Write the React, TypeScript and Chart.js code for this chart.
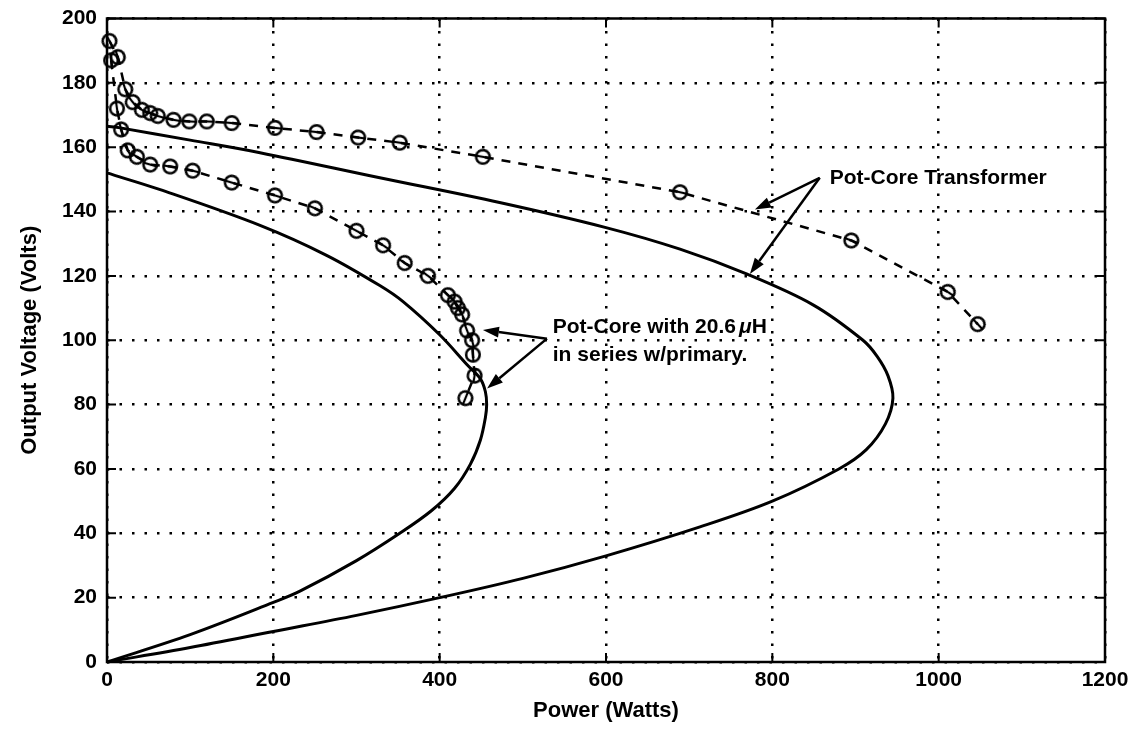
import React, { useEffect, useRef } from "react";
import { Chart, registerables } from "chart.js";

Chart.register(...registerables);

// Axis ticks
const xTicks = [0, 200, 400, 600, 800, 1000, 1200];
const yTicks = [0, 20, 40, 60, 80, 100, 120, 140, 160, 180, 200];

// Calculated output curve, pot-core transformer (solid)
const potCoreCalcP = [0, 100, 200, 300, 400, 500, 600, 713, 800, 880, 913, 936, 945, 939, 926, 909, 849, 769, 689, 600, 472, 328, 184, 100, 16, 0];
const potCoreCalcV = [0, 4.5, 9.5, 14.5, 20, 26, 33, 42, 50, 60, 66, 74, 82, 89, 95, 100, 111, 120.6, 128.3, 135, 142.8, 150.5, 158.3, 162.2, 166, 166.5];

// Calculated output curve, pot-core with series inductance (solid)
const seriesLCalcP = [0, 100, 200, 232, 300, 352, 390, 418, 437, 449, 455, 456.5, 455, 449, 433, 400, 356, 328, 264, 184, 64, 0];
const seriesLCalcV = [0, 8.5, 18.5, 22, 31.5, 40, 47, 54, 61.5, 69, 76, 80, 84, 88, 92.4, 101.7, 112, 117, 126.4, 135.7, 146.8, 152];

// Measured points, pot-core transformer (dashed, circles)
const potCoreMeasP = [3, 13, 22, 31, 42, 52, 61, 80, 99, 120, 150, 202, 252, 302, 352, 452, 689, 895, 1011, 1047];
const potCoreMeasV = [193, 188, 178, 174, 171.6, 170.6, 169.7, 168.5, 168, 168, 167.5, 166, 164.7, 163, 161.4, 157, 146, 131, 115, 105];

// Measured points, pot-core with series inductance (dashed, circles)
const seriesLMeasP = [5, 12, 17, 25, 36, 52, 76, 103, 150, 202, 250, 300, 332, 358, 386, 410, 418, 422, 427, 433, 439, 440, 442, 431];
const seriesLMeasV = [187, 172, 165.5, 159, 157, 154.6, 154, 152.7, 149, 145, 141, 134, 129.5, 124, 120, 114, 112, 110, 108, 103, 100, 95.5, 89, 82];

// Callouts (data coordinates)
const transformerLabel = "Pot-Core Transformer";
const transformerLabelAt = [869, 150.5];
const transformerArrowFrom = [857, 150.5];
const transformerArrowTips = [[779, 140.6], [773, 120.6]];

const seriesLabelLine1 = "Pot-Core with 20.6";
const seriesLabelUnit = "H";
const seriesLabelLine2 = "in series w/primary.";
const seriesLabelAt = [536, 104.2];
const seriesLabelLine2At = [536, 95.5];
const seriesArrowFrom = [529, 100.5];
const seriesArrowTips = [[452, 103.2], [457, 85]];

const FONT = "'Liberation Sans', Arial, Helvetica, sans-serif";

const toPoints = (xs: number[], ys: number[]) => xs.map((x, i) => ({ x, y: ys[i] }));

function makeMarker(): HTMLCanvasElement {
  const c = document.createElement("canvas");
  c.width = 20;
  c.height = 20;
  const g = c.getContext("2d")!;
  g.strokeStyle = "#000";
  g.lineWidth = 2.5;
  g.beginPath();
  g.arc(10, 10, 6.8, 0, Math.PI * 2);
  g.stroke();
  g.lineWidth = 2.2;
  g.beginPath();
  g.moveTo(4, 10);
  g.lineTo(16, 10);
  g.stroke();
  return c;
}

// Rotate each marker's inner bar along the local direction of its line
const markerRotation = (ctx: any) => {
  const data = ctx.dataset?.data as { x: number; y: number }[] | undefined;
  const sx = ctx.chart?.scales?.x;
  const sy = ctx.chart?.scales?.y;
  if (!data || !sx || !sy) return 0;
  const i = ctx.dataIndex;
  const a = data[Math.max(0, i - 1)];
  const b = data[Math.min(data.length - 1, i + 1)];
  const dx = sx.getPixelForValue(b.x) - sx.getPixelForValue(a.x);
  const dy = sy.getPixelForValue(b.y) - sy.getPixelForValue(a.y);
  const ang = (Math.atan2(dy, dx) * 180) / Math.PI;
  return isFinite(ang) ? ang : 0;
};

const framePlugin = {
  id: "frame",
  afterDraw(chart: any) {
    const { ctx, chartArea: a, scales } = chart;
    ctx.save();
    ctx.strokeStyle = "#000";
    ctx.lineWidth = 2.5;
    ctx.strokeRect(a.left, a.top, a.right - a.left, a.bottom - a.top);
    ctx.lineWidth = 2;
    const tl = 9;
    ctx.beginPath();
    for (const v of xTicks) {
      const px = scales.x.getPixelForValue(v);
      ctx.moveTo(px, a.bottom);
      ctx.lineTo(px, a.bottom - tl);
      ctx.moveTo(px, a.top);
      ctx.lineTo(px, a.top + tl);
    }
    for (const v of yTicks) {
      const py = scales.y.getPixelForValue(v);
      ctx.moveTo(a.left, py);
      ctx.lineTo(a.left + tl, py);
      ctx.moveTo(a.right, py);
      ctx.lineTo(a.right - tl, py);
    }
    ctx.stroke();
    ctx.restore();
  },
};

function arrow(ctx: CanvasRenderingContext2D, x0: number, y0: number, x1: number, y1: number) {
  const ang = Math.atan2(y1 - y0, x1 - x0);
  const len = 16;
  const hw = 5.5;
  const bx = x1 - len * Math.cos(ang);
  const by = y1 - len * Math.sin(ang);
  ctx.beginPath();
  ctx.moveTo(x0, y0);
  ctx.lineTo(bx, by);
  ctx.stroke();
  ctx.beginPath();
  ctx.moveTo(x1, y1);
  ctx.lineTo(bx + hw * Math.sin(ang), by - hw * Math.cos(ang));
  ctx.lineTo(bx - hw * Math.sin(ang), by + hw * Math.cos(ang));
  ctx.closePath();
  ctx.fill();
}

const calloutPlugin = {
  id: "callouts",
  afterDatasetsDraw(chart: any) {
    const { ctx, scales } = chart;
    const px = (v: number) => scales.x.getPixelForValue(v);
    const py = (v: number) => scales.y.getPixelForValue(v);
    ctx.save();
    ctx.strokeStyle = "#000";
    ctx.fillStyle = "#000";
    ctx.lineWidth = 2.5;
    for (const [tx, ty] of transformerArrowTips) {
      arrow(ctx, px(transformerArrowFrom[0]), py(transformerArrowFrom[1]), px(tx), py(ty));
    }
    for (const [tx, ty] of seriesArrowTips) {
      arrow(ctx, px(seriesArrowFrom[0]), py(seriesArrowFrom[1]), px(tx), py(ty));
    }
    ctx.textBaseline = "middle";
    ctx.textAlign = "left";
    ctx.font = `bold 21px ${FONT}`;
    ctx.fillText(transformerLabel, px(transformerLabelAt[0]), py(transformerLabelAt[1]));

    let x = px(seriesLabelAt[0]);
    const y1 = py(seriesLabelAt[1]);
    ctx.fillText(seriesLabelLine1, x, y1);
    x += ctx.measureText(seriesLabelLine1).width + 3;
    ctx.font = `italic bold 21px ${FONT}`;
    ctx.fillText("\u03bc", x, y1);
    x += ctx.measureText("\u03bc").width;
    ctx.font = `bold 21px ${FONT}`;
    ctx.fillText(seriesLabelUnit, x, y1);
    ctx.fillText(seriesLabelLine2, px(seriesLabelLine2At[0]), py(seriesLabelLine2At[1]));
    ctx.restore();
  },
};

export default function App() {
  const ref = useRef<HTMLCanvasElement | null>(null);

  useEffect(() => {
    if (!ref.current) return;
    Chart.defaults.font.family = FONT;
    Chart.defaults.color = "#000";
    const marker = makeMarker();

    const measured = (xs: number[], ys: number[]) => ({
      data: toPoints(xs, ys),
      showLine: true,
      borderColor: "#000",
      borderWidth: 2.5,
      borderDash: [9, 8],
      tension: 0,
      pointStyle: marker as any,
      pointRadius: 8,
      pointRotation: markerRotation,
      clip: 12,
    });
    const calc = (xs: number[], ys: number[]) => ({
      data: toPoints(xs, ys),
      showLine: true,
      borderColor: "#000",
      borderWidth: 3,
      tension: 0.35,
      pointRadius: 0,
      clip: 4,
    });

    const chart = new Chart(ref.current, {
      type: "scatter",
      data: {
        datasets: [
          calc(potCoreCalcP, potCoreCalcV),
          calc(seriesLCalcP, seriesLCalcV),
          measured(potCoreMeasP, potCoreMeasV),
          measured(seriesLMeasP, seriesLMeasV),
        ] as any,
      },
      options: {
        animation: false,
        responsive: true,
        maintainAspectRatio: false,
        layout: { padding: { top: 7, right: 26, left: 0, bottom: 0 } },
        plugins: { legend: { display: false }, tooltip: { enabled: false } },
        scales: {
          x: {
            type: "linear",
            min: 0,
            max: 1200,
            afterBuildTicks: (s: any) => {
              s.ticks = xTicks.map((v) => ({ value: v }));
            },
            afterFit: (s: any) => {
              s.height = 62;
              s.paddingLeft = 0;
              s.paddingRight = 0;
            },
            ticks: {
              padding: 6,
              font: { size: 21, weight: "bold" },
              color: "#000",
              maxRotation: 0,
              callback: (v: any) => String(v),
            },
            grid: { color: "#000", lineWidth: 2.5, drawTicks: false },
            border: { display: false, dash: [2.5, 10] },
            title: {
              display: true,
              text: "Power (Watts)",
              font: { size: 22, weight: "bold" },
              color: "#000",
              padding: { top: 0, bottom: 0 },
            },
          },
          y: {
            type: "linear",
            min: 0,
            max: 200,
            afterBuildTicks: (s: any) => {
              s.ticks = yTicks.map((v) => ({ value: v }));
            },
            afterFit: (s: any) => {
              s.width = 99;
              s.paddingTop = 0;
              s.paddingBottom = 0;
            },
            ticks: {
              padding: 10,
              font: { size: 21, weight: "bold" },
              color: "#000",
              callback: (v: any) => String(v),
            },
            grid: { color: "#000", lineWidth: 2.5, drawTicks: false },
            border: { display: false, dash: [2.5, 10] },
            title: {
              display: true,
              text: "Output Voltage (Volts)",
              font: { size: 22, weight: "bold" },
              color: "#000",
              padding: { top: 9, bottom: 0 },
            },
          },
        },
      } as any,
      plugins: [framePlugin, calloutPlugin],
    });
    return () => chart.destroy();
  }, []);

  return (
    <div style={{ position: "relative", width: "1123px", height: "716px", background: "#fff" }}>
      <canvas ref={ref} />
    </div>
  );
}
